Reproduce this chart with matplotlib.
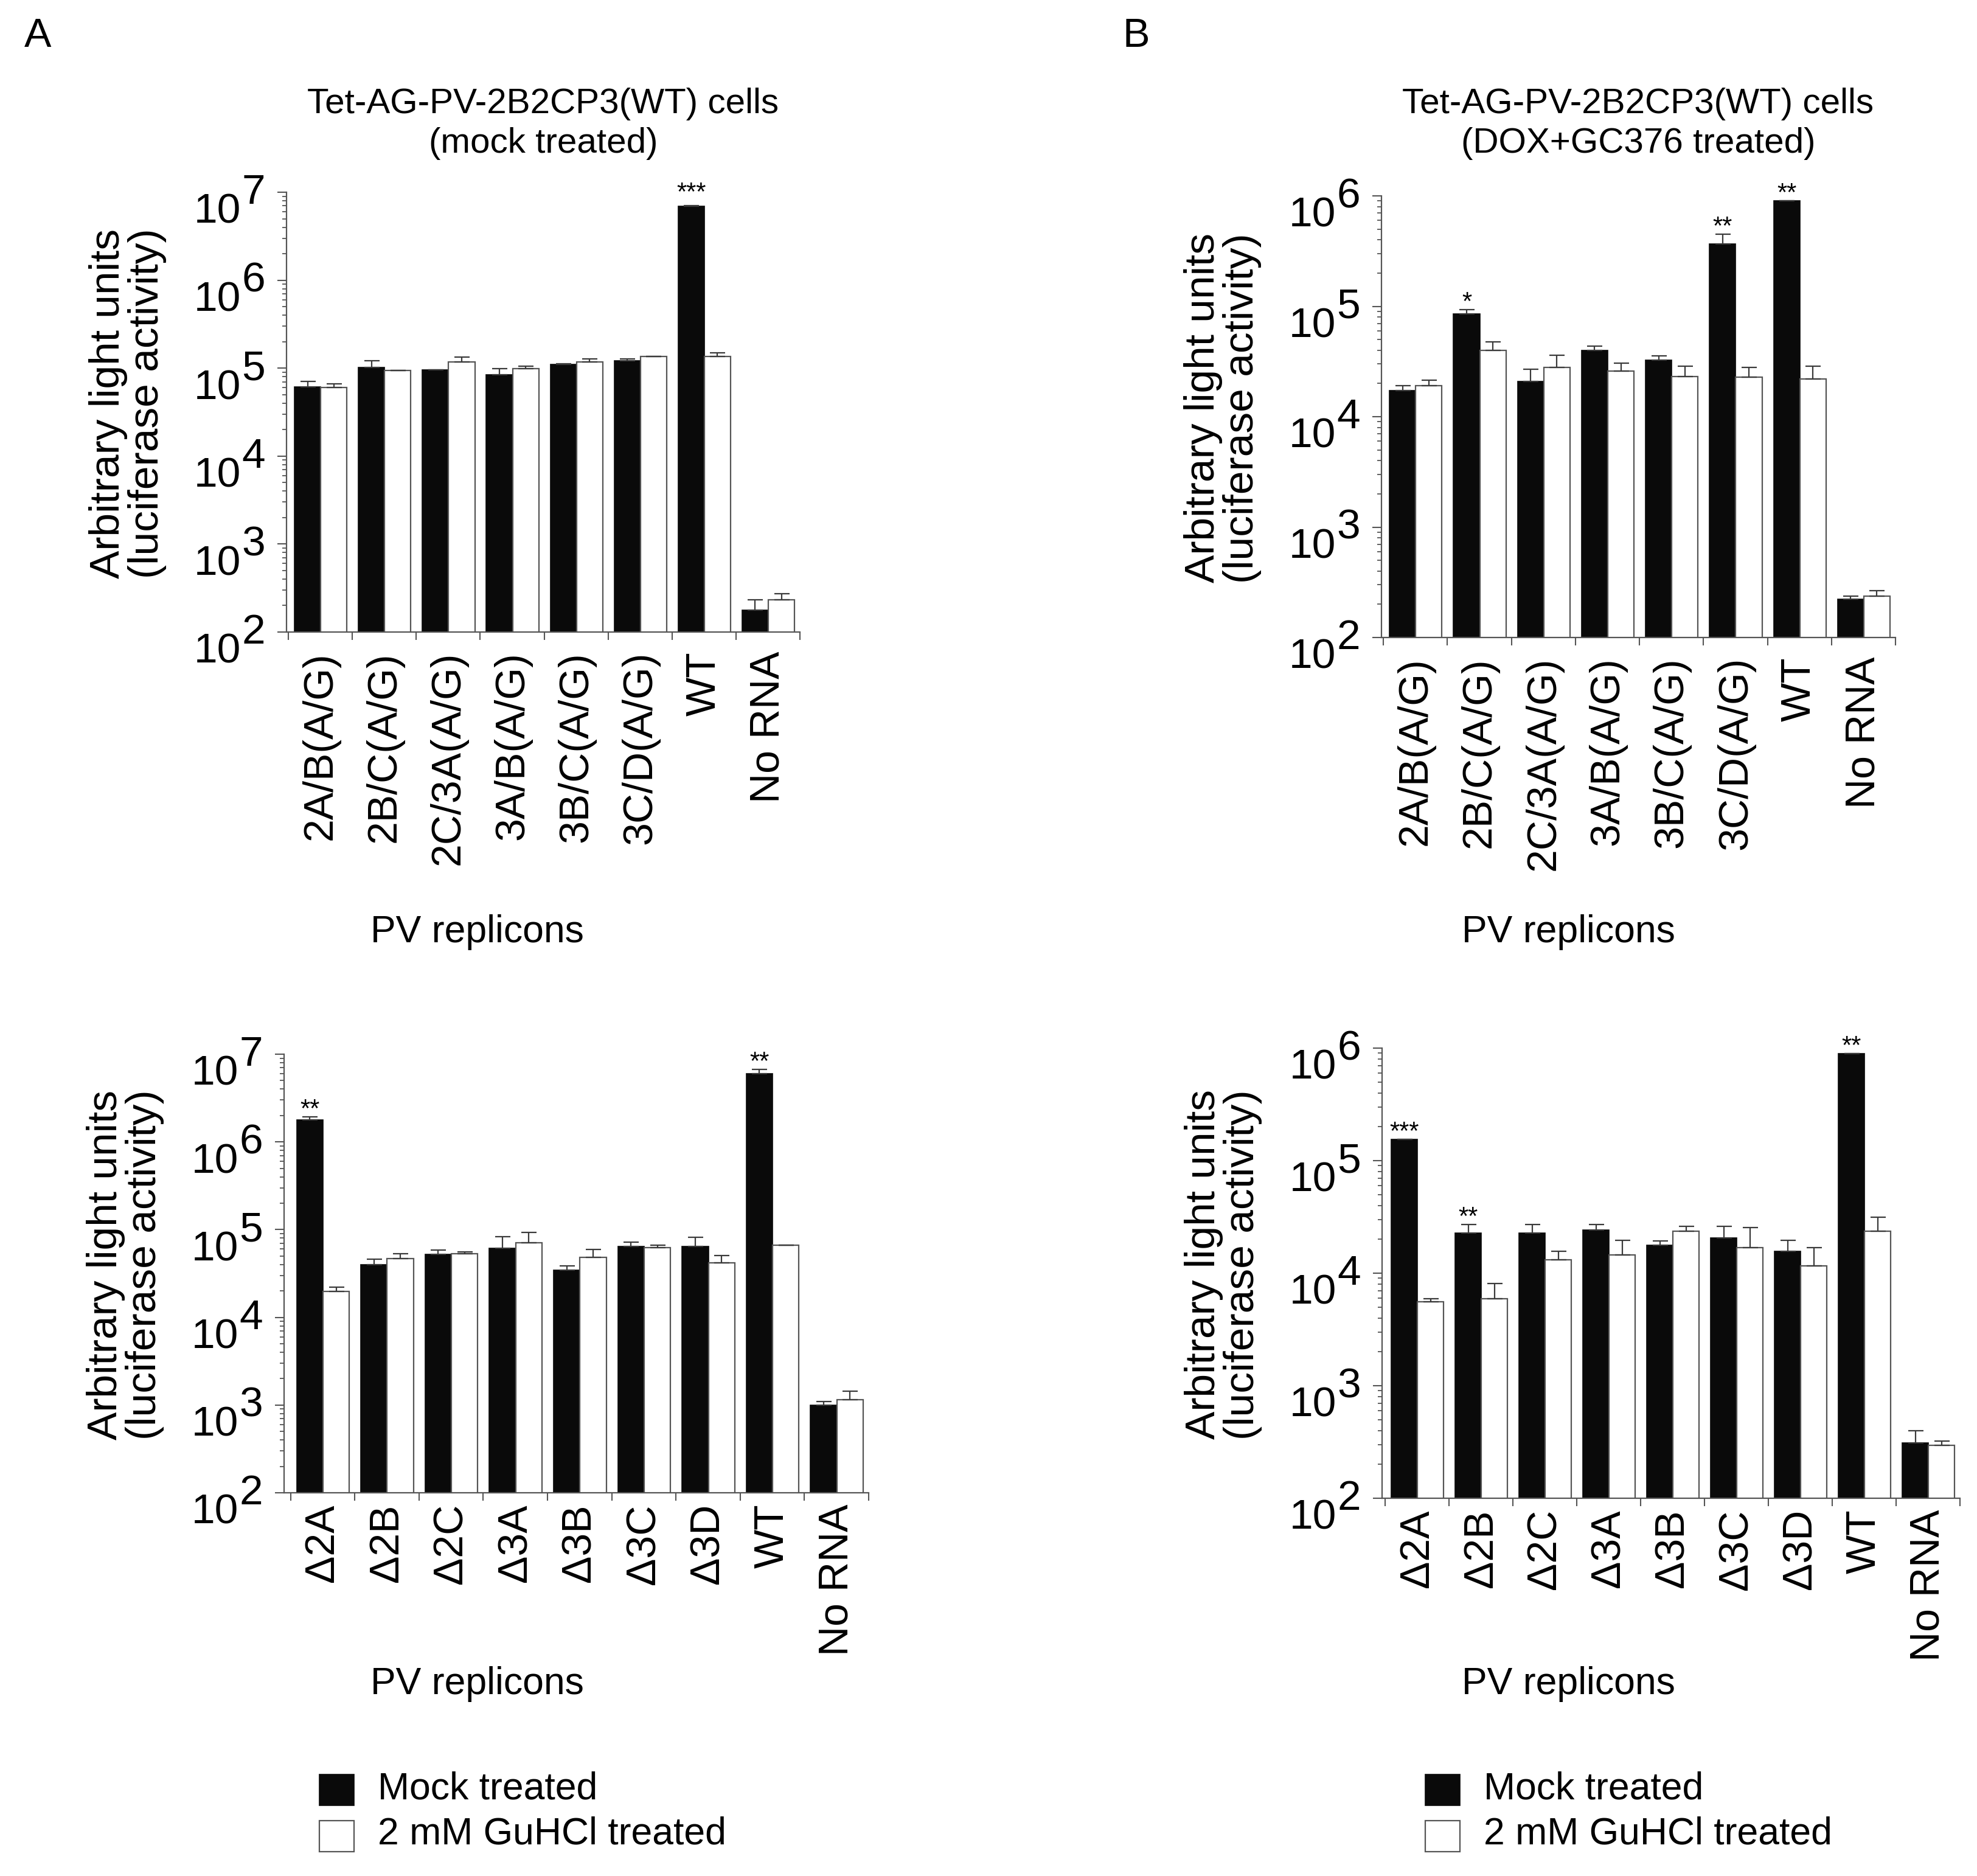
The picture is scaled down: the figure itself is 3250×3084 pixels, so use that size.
import matplotlib
matplotlib.use("Agg")
import matplotlib.pyplot as plt
from matplotlib.patches import Rectangle
from matplotlib.ticker import LogLocator, NullFormatter
import numpy as np

plt.rcParams['font.family'] = ['Liberation Sans', 'DejaVu Sans']

# ---- data ----
labels_ag = ["2A/B(A/G)", "2B/C(A/G)", "2C/3A(A/G)", "3A/B(A/G)",
             "3B/C(A/G)", "3C/D(A/G)", "WT", "No RNA"]
labels_del = ["\u03942A", "\u03942B", "\u03942C", "\u03943A", "\u03943B",
              "\u03943C", "\u03943D", "WT", "No RNA"]

# top left: mock treated cells
mockA_black = [6.1e4, 1.02e5, 9.6e4, 8.4e4, 1.11e5, 1.21e5, 6.9e6, 178]
mockA_black_err = [1.0e4, 2.0e4, 0, 1.4e4, 2e3, 7e3, 1e5, 55]
mockA_white = [6.0e4, 9.4e4, 1.18e5, 9.8e4, 1.18e5, 1.36e5, 1.36e5, 231]
mockA_white_err = [6e3, 0, 1.6e4, 8e3, 1e4, 0, 1.4e4, 41]

# top right: DOX+GC376 treated cells
doxA_black = [1.73e4, 8.5e4, 2.09e4, 3.98e4, 3.24e4, 3.66e5, 9.0e5, 222]
doxA_black_err = [1.7e3, 8e3, 6e3, 4e3, 3.3e3, 8.2e4, 0, 14]
doxA_white = [1.91e4, 3.98e4, 2.8e4, 2.6e4, 2.3e4, 2.28e4, 2.19e4, 236]
doxA_white_err = [2.2e3, 7.8e3, 8e3, 4.5e3, 5.8e3, 5.2e3, 6.9e3, 29]

# bottom left: deletion replicons, mock treated cells
mockD_black = [1.77e6, 4.0e4, 5.2e4, 6.1e4, 3.46e4, 6.46e4, 6.4e4, 5.96e6, 998]
mockD_black_err = [1.6e5, 5.7e3, 6.7e3, 2.2e4, 3.8e3, 7e3, 1.75e4, 7.4e5, 100]
mockD_white = [1.97e4, 4.64e4, 5.3e4, 7.1e4, 4.85e4, 6.24e4, 4.19e4, 6.68e4, 1150]
mockD_white_err = [2.4e3, 6.9e3, 2.7e3, 2.2e4, 1.07e4, 4.4e3, 8.8e3, 0, 280]

# bottom right: deletion replicons, DOX+GC376 treated cells
doxD_black = [1.54e5, 2.27e4, 2.27e4, 2.41e4, 1.77e4, 2.07e4, 1.57e4, 8.9e5, 312]
doxD_black_err = [0, 4.5e3, 4.2e3, 3.1e3, 1.6e3, 5.5e3, 3.9e3, 0, 86]
doxD_white = [5.55e3, 5.93e3, 1.31e4, 1.46e4, 2.36e4, 1.68e4, 1.16e4, 2.36e4, 296]
doxD_white_err = [380, 2.17e3, 2.5e3, 4.9e3, 2.6e3, 8.5e3, 5.2e3, 8e3, 25]

stars_mockA = {6: "***"}
stars_doxA = {1: "*", 5: "**", 6: "**"}
stars_mockD = {0: "**", 7: "**"}
stars_doxD = {0: "***", 1: "**", 7: "**"}

W, H = 3250, 3084
AXIS_GREY = "#555555"


def fx(px):
    return px / W


def fy(py):
    return 1 - py / H


def panel(fig, box, labels, black, black_err, white, white_err, stars,
          top_exp, label_pad, star_lift, xmin):
    l, t, r, b = box
    ax = fig.add_axes([fx(l), fy(b), (r - l) / W, (b - t) / H])
    ax.set_yscale('log')
    n = len(labels)
    x = np.arange(n)
    w = 0.41
    xb = x + 0.3
    xw = x + 0.71
    ax.bar(xb, black, width=w, color="#0a0a0a", edgecolor="#0a0a0a",
           linewidth=1.2, zorder=2)
    ax.bar(xw, white, width=w, color="white", edgecolor=AXIS_GREY,
           linewidth=1.6, zorder=2)
    ax.errorbar(xb, black, yerr=[np.zeros(n), black_err], fmt='none',
                ecolor="#3a3a3a", elinewidth=1.6, capsize=9, capthick=1.6,
                zorder=3)
    ax.errorbar(xw, white, yerr=[np.zeros(n), white_err], fmt='none',
                ecolor="#3a3a3a", elinewidth=1.6, capsize=9, capthick=1.6,
                zorder=3)
    for i, s in stars.items():
        ax.annotate(s, xy=(xb[i], black[i] + black_err[i]),
                    xytext=(0, star_lift), textcoords='offset points',
                    ha='center', va='baseline', fontsize=30)

    ax.set_ylim(1e2, 10 ** top_exp)
    ax.set_xlim(xmin, n)
    for side in ['top', 'right']:
        ax.spines[side].set_visible(False)
    for side in ['left', 'bottom']:
        ax.spines[side].set_color(AXIS_GREY)
        ax.spines[side].set_linewidth(1.6)

    ax.yaxis.set_major_locator(LogLocator(base=10, numticks=10))
    ax.yaxis.set_minor_locator(LogLocator(base=10, subs=np.arange(2, 10),
                                          numticks=100))
    ax.yaxis.set_minor_formatter(NullFormatter())
    ax.tick_params(axis='y', which='major', length=11, width=1.5,
                   color=AXIS_GREY, labelleft=False)
    ax.tick_params(axis='y', which='minor', length=5, width=1.3,
                   color=AXIS_GREY)
    for k in range(2, top_exp + 1):
        ax.annotate("10", xy=(0, 10 ** k), xycoords=('axes fraction', 'data'),
                    xytext=(-54, -36.7), textcoords='offset points',
                    ha='right', va='baseline', fontsize=50)
        ax.annotate(str(k), xy=(0, 10 ** k), xycoords=('axes fraction', 'data'),
                    xytext=(-25, -13.7), textcoords='offset points',
                    ha='right', va='baseline', fontsize=50)

    ax.set_xticks(np.arange(n + 1))
    ax.set_xticklabels([])
    ax.set_xticks(x + 0.5, labels, minor=True)
    ax.tick_params(axis='x', which='major', direction='out', length=9,
                   width=1.5, color=AXIS_GREY)
    ax.tick_params(axis='x', which='minor', length=0, pad=label_pad,
                   labelsize=49, labelrotation=90)
    for lab in ax.get_xticklabels(minor=True):
        lab.set_va('top')
    # y label
    fig.text(fx(l - 261), fy((t + b) / 2 - 14),
             "Arbitrary light units\n(luciferase activity)",
             rotation=90, ha='center', va='center', multialignment='center',
             fontsize=50, linespacing=1.0)
    return ax


fig = plt.figure(figsize=(W / 100, H / 100), dpi=100)

panel(fig, (471, 316, 1315, 1039), labels_ag, mockA_black, mockA_black_err,
      mockA_white, mockA_white_err, stars_mockA, 7, 23, 7, -0.03)
panel(fig, (2271, 322, 3116, 1048), labels_ag, doxA_black, doxA_black_err,
      doxA_white, doxA_white_err, stars_doxA, 6, 23, 0, -0.03)
panel(fig, (467, 1733, 1428, 2454), labels_del, mockD_black, mockD_black_err,
      mockD_white, mockD_white_err, stars_mockD, 7, 13, 0, -0.1)
panel(fig, (2272, 1723, 3222, 2463), labels_del, doxD_black, doxD_black_err,
      doxD_white, doxD_white_err, stars_doxD, 6, 13, 0, -0.05)

# panel letters
fig.text(fx(62), fy(60), "A", fontsize=48, ha='center', va='center')
fig.text(fx(1868), fy(60), "B", fontsize=48, ha='center', va='center')

# titles
fig.text(fx(893), fy(251), "Tet-AG-PV-2B2CP3(WT) cells\n(mock treated)",
         ha='center', va='baseline', multialignment='center', fontsize=42,
         linespacing=1.25)
fig.text(fx(2693), fy(251), "Tet-AG-PV-2B2CP3(WT) cells\n(DOX+GC376 treated)",
         ha='center', va='baseline', multialignment='center', fontsize=42,
         linespacing=1.25)

# x axis titles
for xc, yb in [(784, 1549), (2578, 1549), (784, 2785), (2578, 2785)]:
    fig.text(fx(xc), fy(yb), "PV replicons", ha='center', va='baseline',
             fontsize=45)

# legends
for sq_left, txt_left in [(525, 621), (2343, 2439)]:
    fig.add_artist(Rectangle((fx(sq_left), fy(2968)), 57 / W, 51 / H,
                             transform=fig.transFigure, facecolor="#0a0a0a",
                             edgecolor="#0a0a0a", linewidth=1.2))
    fig.add_artist(Rectangle((fx(sq_left), fy(3044)), 57 / W, 51 / H,
                             transform=fig.transFigure, facecolor="white",
                             edgecolor=AXIS_GREY, linewidth=1.6))
    fig.text(fx(txt_left), fy(2958), "Mock treated", ha='left',
             va='baseline', fontsize=45)
    fig.text(fx(txt_left), fy(3032), "2 mM GuHCl treated", ha='left',
             va='baseline', fontsize=45)

fig.savefig("out.png", dpi=100)
